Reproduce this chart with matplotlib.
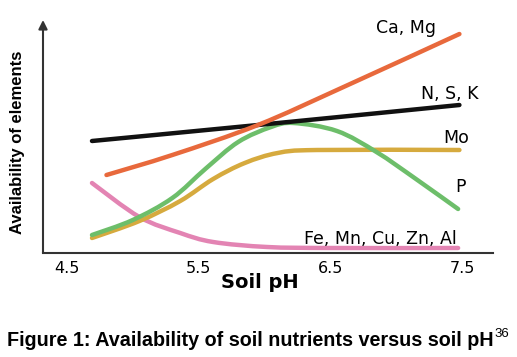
import matplotlib
matplotlib.use("Agg")
import matplotlib.pyplot as plt
from matplotlib.path import Path
from matplotlib.patches import PathPatch

# data (pH vs relative availability)
ph_nsk = [4.69, 5.95, 7.48]
nsk = [112, 128, 148]

ph_camg = [4.80, 5.30, 5.95, 6.60, 7.48]
camg = [78, 98, 128, 166, 219]

ph_p = [4.69, 5.00, 5.30, 5.55, 5.80, 6.05, 6.22, 6.55, 6.85, 7.15, 7.47]
p = [18, 33, 55, 84, 111, 126, 130, 122, 101, 74, 44]

ph_mo = [4.69, 5.05, 5.36, 5.61, 5.85, 6.10, 6.40, 7.48]
mo = [15, 32, 52, 74, 90, 100, 103, 103]

ph_fe = [4.69, 5.05, 5.36, 5.61, 6.02, 6.50, 7.47]
fe = [70, 36, 20, 11, 6, 5, 5]

ticks = [4.5, 5.5, 6.5, 7.5]
tick_labels = ["4.5", "5.5", "6.5", "7.5"]


def smooth_line(ax, xs, ys, color, lw):
    # catmull-rom through the points, drawn as bezier segments
    verts = [(xs[0], ys[0])]
    codes = [Path.MOVETO]
    n = len(xs)
    for i in range(n - 1):
        x0, y0 = (xs[i - 1], ys[i - 1]) if i > 0 else (xs[i], ys[i])
        x1, y1 = xs[i], ys[i]
        x2, y2 = xs[i + 1], ys[i + 1]
        x3, y3 = (xs[i + 2], ys[i + 2]) if i + 2 < n else (xs[i + 1], ys[i + 1])
        c1 = (x1 + (x2 - x0) / 6, y1 + (y2 - y0) / 6)
        c2 = (x2 - (x3 - x1) / 6, y2 - (y3 - y1) / 6)
        verts += [c1, c2, (x2, y2)]
        codes += [Path.CURVE4] * 3
    patch = PathPatch(Path(verts, codes), fill=False, edgecolor=color, lw=lw,
                      capstyle="round", joinstyle="round")
    ax.add_patch(patch)


W, H = 517, 357
fig = plt.figure(figsize=(W / 100, H / 100), dpi=100)
ax = fig.add_axes([43 / W, (H - 253) / H, 450 / W, 233 / H])

lw = 3.2
smooth_line(ax, ph_fe, fe, "#E384B3", lw)
smooth_line(ax, ph_mo, mo, "#D6AA3E", lw)
smooth_line(ax, ph_p, p, "#6DBE6A", lw)
smooth_line(ax, ph_nsk, nsk, "#111111", lw)
smooth_line(ax, ph_camg, camg, "#E8693C", lw)

ax.set_xlim(4.318, 7.735)
ax.set_ylim(0, 233)
ax.set_xticks(ticks)
ax.set_xticklabels(tick_labels, fontsize=11.5, family="DejaVu Sans")
ax.set_yticks([])
ax.tick_params(axis="x", length=0, pad=6)
for s in ["top", "right"]:
    ax.spines[s].set_visible(False)
ax.spines["bottom"].set_color("#333333")
ax.spines["bottom"].set_linewidth(1.5)
ax.spines["left"].set_visible(False)
ax.annotate("", xy=(0, 1), xytext=(0, 0), xycoords="axes fraction",
            arrowprops=dict(arrowstyle="-|>", color="#333333", lw=1.5,
                            mutation_scale=13, shrinkA=0, shrinkB=0),
            annotation_clip=False)

lab = dict(fontsize=12.5, family="DejaVu Sans", ha="center", va="center")
ax.text(7.074, 225, "Ca, Mg", **lab)
ax.text(7.408, 159, "N, S, K", **lab)
ax.text(7.454, 115, "Mo", **lab)
ax.text(7.492, 66, "P", **lab)
ax.text(6.877, 14, "Fe, Mn, Cu, Zn, Al", **lab)

fig.text(260 / W, 1 - 283 / H, "Soil pH", fontsize=14, fontweight="bold",
         family="DejaVu Sans", ha="center", va="center")
fig.text(18 / W, 1 - 142 / H, "Availability of elements", rotation=90,
         fontsize=12, fontweight="bold",
         family=["Liberation Sans Narrow", "Liberation Sans"],
         ha="center", va="center")

cap = fig.text(7 / W, 1 - 340 / H, "Figure 1: Availability of soil nutrients versus soil pH",
               fontsize=14.2, fontweight="bold", family="Liberation Sans",
               ha="left", va="center")
fig.canvas.draw()
bb = cap.get_window_extent()
fig.text(bb.x1 / W + 0.002, 1 - 334 / H, "36", fontsize=9.5,
         family="Liberation Sans", ha="left", va="center")

fig.savefig("out.png", dpi=100)
